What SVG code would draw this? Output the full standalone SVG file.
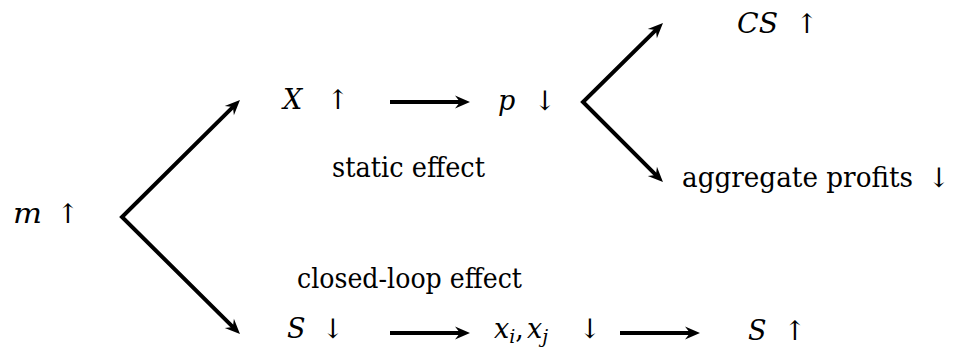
<svg xmlns="http://www.w3.org/2000/svg" width="955" height="358" viewBox="0 0 955 358">
<defs>
<marker id="ah" viewBox="-16 -8 18 16" refX="-8" refY="0" markerUnits="userSpaceOnUse" markerWidth="18" markerHeight="16" orient="auto-start-reverse">
<path d="M0,0 L-15,-6.5 L-10,0 L-15,6.5 Z" fill="#000"/>
</marker>
</defs>
<rect width="955" height="358" fill="#fff"/>
<g id="connectors" fill="none" stroke="#000" stroke-width="4" stroke-linejoin="miter">
<path d="M234.3,105.6 L122,217 L234.3,328.4" marker-start="url(#ah)" marker-end="url(#ah)"/>
<path d="M657.3,28.6 L583,102 L657.3,176.4" marker-start="url(#ah)" marker-end="url(#ah)"/>
<path d="M390,102 L462,102" marker-end="url(#ah)"/>
<path d="M390,333 L462,333" marker-end="url(#ah)"/>
<path d="M620,333 L692,333" marker-end="url(#ah)"/>
</g>
<g font-family="'DejaVu Serif'" font-size="27" fill="#000">
<g id="m"><text x="13" y="223" font-family="'DejaVu Serif'" font-style="italic" textLength="29" lengthAdjust="spacingAndGlyphs">m</text><text x="68" y="223" font-family="'DejaVu Serif'" text-anchor="middle">↑</text></g>
<g id="X"><text x="283" y="109" font-family="'DejaVu Serif'" font-style="italic">X</text><text x="338" y="109" font-family="'DejaVu Serif'" text-anchor="middle">↑</text></g>
<g id="p"><text x="498" y="110" font-family="'DejaVu Serif'" font-style="italic">p</text><text x="545" y="110" font-family="'DejaVu Serif'" text-anchor="middle">↓</text></g>
<g id="CS"><text x="737" y="33" font-family="'DejaVu Serif'" font-style="italic" textLength="41" lengthAdjust="spacingAndGlyphs">CS</text><text x="807" y="33" font-family="'DejaVu Serif'" text-anchor="middle">↑</text></g>
<g id="static"><text x="332" y="177" font-family="'DejaVu Serif'" textLength="153" lengthAdjust="spacingAndGlyphs">static effect</text></g>
<g id="profits"><text x="682" y="187" font-family="'DejaVu Serif'" textLength="231" lengthAdjust="spacingAndGlyphs">aggregate profits</text><text x="939" y="187" font-family="'DejaVu Serif'" text-anchor="middle">↓</text></g>
<g id="closed"><text x="297" y="288" font-family="'DejaVu Serif'" textLength="225" lengthAdjust="spacingAndGlyphs">closed-loop effect</text></g>
<g id="S1"><text x="287" y="338" font-family="'DejaVu Serif'" font-style="italic">S</text><text x="333" y="338" font-family="'DejaVu Serif'" text-anchor="middle">↓</text></g>
<g id="xij"><text x="494" y="338" font-family="'DejaVu Serif'" font-style="italic">x<tspan font-size="19" dy="5">i</tspan><tspan dy="-5" font-style="normal">,</tspan><tspan dx="3">x</tspan><tspan font-size="19" dy="5">j</tspan></text><text x="590" y="338" font-family="'DejaVu Serif'" text-anchor="middle">↓</text></g>
<g id="S2"><text x="748" y="340" font-family="'DejaVu Serif'" font-style="italic">S</text><text x="795" y="340" font-family="'DejaVu Serif'" text-anchor="middle">↑</text></g>
</g>
</svg>
